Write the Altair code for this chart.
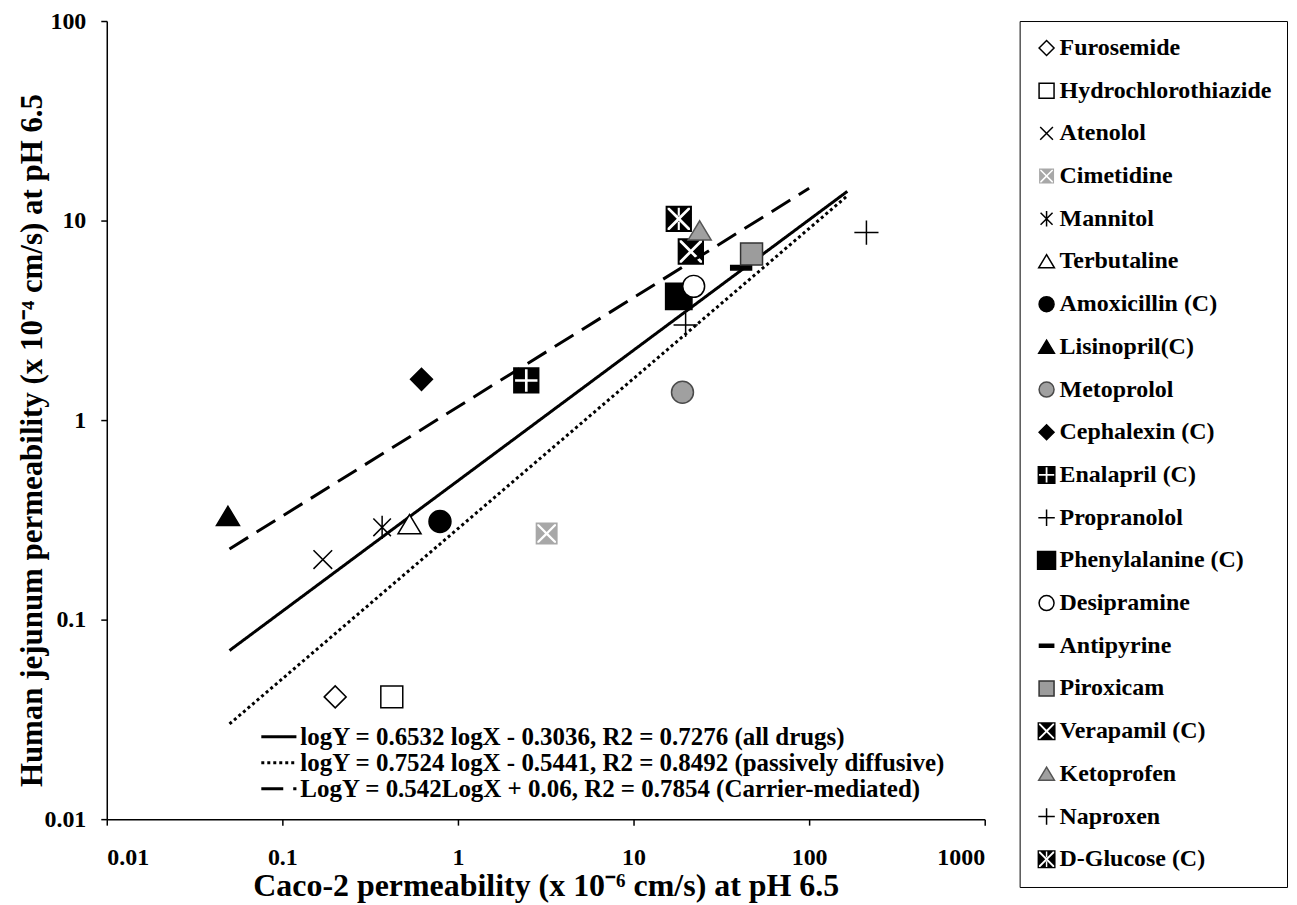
import altair as alt
import pandas as pd

# ---------------- data ----------------
drugs = ["Furosemide", "Hydrochlorothiazide", "Atenolol", "Cimetidine", "Mannitol",
         "Terbutaline", "Amoxicillin (C)", "Lisinopril(C)", "Metoprolol", "Cephalexin (C)",
         "Enalapril (C)", "Propranolol", "Phenylalanine (C)", "Desipramine", "Antipyrine",
         "Piroxicam", "Verapamil (C)", "Ketoprofen", "Naproxen", "D-Glucose (C)"]
caco2 = [0.20, 0.42, 0.17, 3.2, 0.37, 0.53, 0.79, 0.049, 19.0, 0.62,
         2.45, 19.8, 18.1, 22.0, 41.0, 47.0, 21.2, 23.8, 212.0, 18.1]
hpeff = [0.041, 0.041, 0.20, 0.27, 0.29, 0.30, 0.31, 0.33, 1.38, 1.60,
         1.58, 3.0, 4.17, 4.68, 5.8, 6.8, 7.0, 8.9, 8.7, 10.2]

fit_labels = ["logY = 0.6532 logX - 0.3036, R2 = 0.7276 (all drugs)",
              "logY = 0.7524 logX - 0.5441, R2 = 0.8492 (passively diffusive)",
              "LogY = 0.542LogX + 0.06, R2 = 0.7854 (Carrier-mediated)"]
fit_x_start = [0.05, 0.05, 0.05]
fit_x_end = [165.0, 165.0, 100.0]
fit_y_start = [0.070, 0.030, 0.226]
fit_y_end = [14.0, 13.3, 14.5]

x_ticks = [0.01, 0.1, 1, 10, 100, 1000]
y_ticks = [0.01, 0.1, 1, 10, 100]

# ---------------- marker shapes (SVG paths) ----------------
def poly(pts):
    return "M" + "L".join(f"{x:.3f},{y:.3f}" for x, y in pts) + "Z"

def square_pts(s):
    return [(-s, -s), (s, -s), (s, s), (-s, s)]

def x_pts(a, d):
    return [(0, -d), (a - d, -a), (a, -a), (a, -a + d), (d, 0), (a, a - d), (a, a),
            (a - d, a), (0, d), (-a + d, a), (-a, a), (-a, a - d), (-d, 0),
            (-a, -a + d), (-a, -a), (-a + d, -a)]

def plus_pts(a, d):
    return [(-d, -a), (d, -a), (d, -d), (a, -d), (a, d), (d, d), (d, a), (-d, a),
            (-d, d), (-a, d), (-a, -d), (-d, -d)]

def hole(pts):
    return poly(list(reversed(pts)))

def sq_x(s):
    return poly(square_pts(s)) + hole(x_pts(0.85 * s, 0.15 * s))

def sq_plus(s):
    return poly(square_pts(s)) + hole(plus_pts(0.85 * s, 0.1 * s))

def sq_star(s):
    a, d, d2 = 0.85 * s, 0.15 * s, 0.08 * s
    top = [(-d2, -a), (d2, -a), (d2, -d - d2), (-d2, -d - d2)]
    bot = [(-d2, d + d2), (d2, d + d2), (d2, a), (-d2, a)]
    return poly(square_pts(s)) + hole(x_pts(a, d)) + hole(top) + hole(bot)

X_SHAPE = "M-0.85,-0.85L0.85,0.85M-0.85,0.85L0.85,-0.85"
STAR_SHAPE = "M-0.8,-0.8L0.8,0.8M-0.8,0.8L0.8,-0.8M0,-1.05L0,1.05"
PLUS_SHAPE = "M-1.1,0L1.1,0M0,-1.1L0,1.1"
TRI_SHAPE = "M0,-0.9L1.05,0.85L-1.05,0.85Z"
DASH_SHAPE = "M-0.95,-0.2L0.95,-0.2L0.95,0.2L-0.95,0.2Z"
BIG_SQ = poly(square_pts(1.2))

shapes = ["diamond", "square", X_SHAPE, sq_x(1.0), STAR_SHAPE,
          TRI_SHAPE, "circle", TRI_SHAPE, "circle", "diamond",
          sq_plus(1.2), PLUS_SHAPE, BIG_SQ, "circle", DASH_SHAPE,
          "square", sq_x(1.2), TRI_SHAPE, PLUS_SHAPE, sq_star(1.2)]
fills = ["white", "white", "transparent", "#a8a8a8", "transparent",
         "white", "black", "black", "#a0a0a0", "black",
         "black", "transparent", "black", "white", "black",
         "#9c9c9c", "black", "#a0a0a0", "transparent", "black"]
strokes = ["black", "black", "black", "transparent", "black",
           "black", "black", "black", "#4a4a4a", "black",
           "transparent", "black", "black", "black", "black",
           "#333333", "transparent", "#555555", "black", "transparent"]

FONT = "Liberation Serif"

pts = pd.DataFrame({"drug": drugs, "caco2": caco2, "hpeff": hpeff})
fits = pd.DataFrame({
    "fit": fit_labels * 2,
    "x": fit_x_start + fit_x_end,
    "y": fit_y_start + fit_y_end,
})

xscale = alt.Scale(type="log", domain=[0.01, 1000], nice=False)
yscale = alt.Scale(type="log", domain=[0.01, 100], nice=False)

xaxis = alt.Axis(values=x_ticks, format="~g", grid=False,
                 title="Caco-2 permeability (x 10⁻⁶ cm/s) at pH 6.5",
                 labelPadding=20, titlePadding=2)
yaxis = alt.Axis(values=y_ticks, format="~g", grid=False,
                 title="Human jejunum permeability (x 10⁻⁴ cm/s) at pH 6.5",
                 labelPadding=15)

drug_legend = alt.Legend(title=None, orient="none", legendX=915, legendY=0,
                         padding=15, fillColor="white", strokeColor="black",
                         labelFont=FONT, labelFontWeight="bold", labelFontSize=24,
                         labelColor="black", symbolSize=225, symbolStrokeWidth=1.5,
                         rowPadding=18.8, labelOffset=1, labelLimit=400)

points = alt.Chart(pts).mark_point(opacity=1, size=484, strokeWidth=1.5).encode(
    x=alt.X("caco2:Q", scale=xscale, axis=xaxis),
    y=alt.Y("hpeff:Q", scale=yscale, axis=yaxis),
    shape=alt.Shape("drug:N", scale=alt.Scale(domain=drugs, range=shapes), legend=drug_legend),
    fill=alt.Fill("drug:N", scale=alt.Scale(domain=drugs, range=fills), legend=drug_legend),
    stroke=alt.Stroke("drug:N", scale=alt.Scale(domain=drugs, range=strokes), legend=drug_legend),
)

fit_legend = alt.Legend(title=None, orient="none", legendX=160, legendY=705, padding=0,
                        symbolType="M-1.6,0L1.6,0", symbolSize=484, symbolStrokeWidth=3,
                        symbolStrokeColor="black", labelFont=FONT, labelFontWeight="bold",
                        labelFontSize=25, labelColor="black", rowPadding=0,
                        labelOffset=9, labelLimit=900)

lines = alt.Chart(fits).mark_line(color="black", strokeWidth=3).encode(
    x=alt.X("x:Q", scale=xscale),
    y=alt.Y("y:Q", scale=yscale),
    strokeDash=alt.StrokeDash("fit:N", scale=alt.Scale(domain=fit_labels,
                              range=[[1, 0], [3, 3], [22, 10]]), legend=fit_legend),
)

chart = alt.layer(lines, points).resolve_scale(
    shape="independent", fill="independent", stroke="independent", strokeDash="independent"
).properties(
    width=880, height=800,
    autosize=alt.AutoSizeParams(type="none"),
    padding={"left": 99, "top": 12, "right": 305, "bottom": 85},
).configure_view(stroke=None).configure_axis(
    domainColor="black", domainWidth=1.5, tickColor="black", tickWidth=1.5, tickSize=6,
    labelFont=FONT, labelFontWeight="bold", labelFontSize=24, labelColor="black",
    titleFont=FONT, titleFontWeight="bold", titleFontSize=32, titleColor="black",
).configure_axisY(titleX=-74, titleY=420, titleAngle=-90, titleBaseline="middle",
                  titleFontSize=31)

chart.save("out.html", embed_options={"renderer": "svg", "actions": False})
